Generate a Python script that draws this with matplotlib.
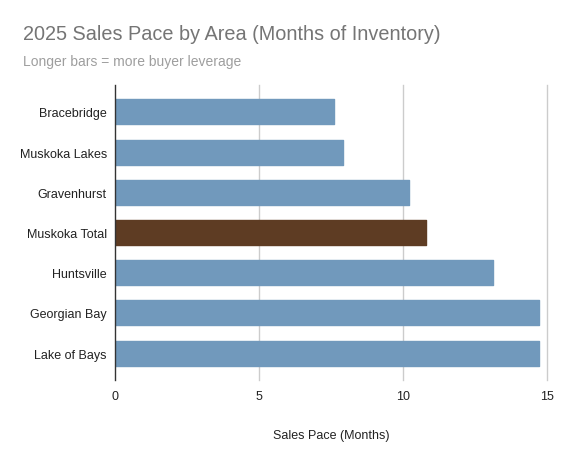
import matplotlib
matplotlib.use("Agg")
import matplotlib.pyplot as plt

# =====================================================
# DADOS
# =====================================================

areas = [
    "Bracebridge",
    "Muskoka Lakes",
    "Gravenhurst",
    "Muskoka Total",
    "Huntsville",
    "Georgian Bay",
    "Lake of Bays",
]

meses = [7.6, 7.9, 10.2, 10.8, 13.1, 14.7, 14.7]

destaque = "Muskoka Total"

cor_barra = "#7199bc"
cor_destaque = "#5e3c23"

plt.rcParams["font.family"] = ["Liberation Sans", "DejaVu Sans"]

# =====================================================
# FIGURA
# =====================================================

fig = plt.figure(figsize=(5.7, 4.56), dpi=100)
ax = fig.add_axes([0.2023, 0.1645, 0.758, 0.6469])

cores = [cor_destaque if a == destaque else cor_barra for a in areas]
pos = list(range(len(areas)))

ax.barh(
    pos,
    meses,
    height=0.62,
    color=cores,
    edgecolor=cores,
    linewidth=1.0,
    joinstyle="round",
    zorder=3,
)

ax.set_ylim(6.667, -0.667)
ax.set_xlim(0, 15)
ax.set_yticks(pos)
ax.set_yticklabels(areas)
ax.set_xticks([0, 5, 10, 15])

# linhas de grade (sem corte na borda direita)
for x in [5, 10, 15]:
    ax.axvline(x, color="#cccccc", linewidth=1.0, zorder=0, clip_on=False)

for lado in ["top", "right", "bottom"]:
    ax.spines[lado].set_visible(False)
ax.spines["left"].set_color("#333333")
ax.spines["left"].set_linewidth(1.0)
ax.spines["left"].set_zorder(4)

ax.tick_params(axis="both", length=0, labelsize=9, colors="#222222")
ax.tick_params(axis="y", pad=6)
ax.tick_params(axis="x", pad=7)

ax.set_xlabel("Sales Pace (Months)", fontsize=9, color="#222222", labelpad=20)

# =====================================================
# TÍTULO
# =====================================================

fig.text(23 / 570, 1 - 35 / 456, "2025 Sales Pace by Area (Months of Inventory)",
         fontsize=14.3, color="#757575", va="center", ha="left")
fig.text(23 / 570, 1 - 62 / 456, "Longer bars = more buyer leverage",
         fontsize=10, color="#9e9e9e", va="center", ha="left")

fig.savefig("out.png", dpi=100)
